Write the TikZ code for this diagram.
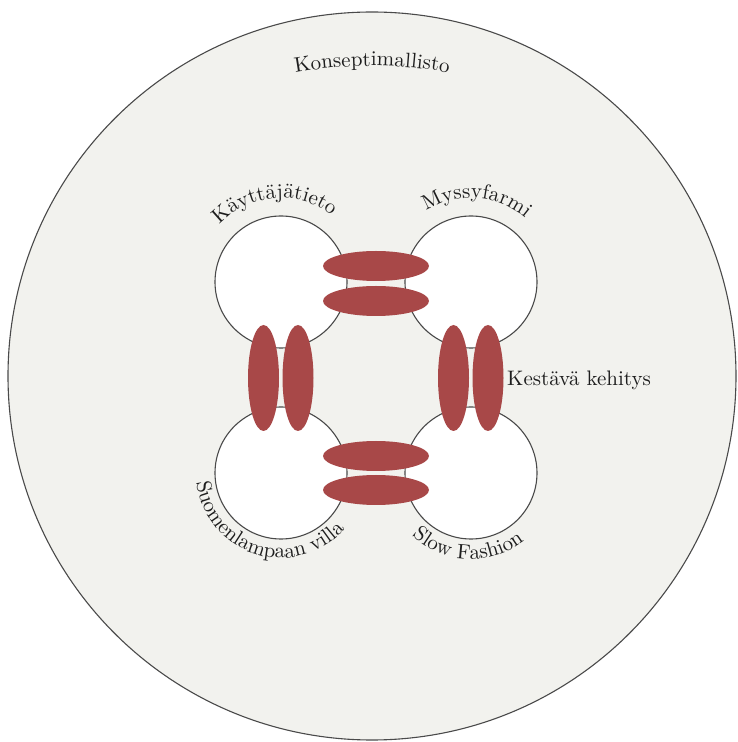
\documentclass[tikz,border=0pt]{standalone}
\usepackage{fontspec}
\usetikzlibrary{shapes.geometric,decorations.text,calc}
\newfontfamily\lblface{lmroman10-regular}[Extension=.otf]
\definecolor{bgfill}{HTML}{F2F2EE}
\definecolor{lineg}{HTML}{4A4A4A}
\definecolor{redov}{HTML}{A84848}
\definecolor{textc}{HTML}{1E1E1E}
\newcommand\lblfont{\lblface\fontsize{21}{25}\selectfont}
\begin{document}
\begin{tikzpicture}[x=1pt,y=1pt,
  bigc/.style={circle, draw=lineg, line width=1.1pt, fill=bgfill, minimum size=728pt, inner sep=0pt},
  smallc/.style={circle, draw=lineg, line width=1.1pt, fill=white, minimum size=132pt, inner sep=0pt},
  hov/.style={ellipse, fill=redov, minimum width=106pt, minimum height=30pt, inner sep=0pt},
  vov/.style={ellipse, fill=redov, minimum width=31pt, minimum height=106pt, inner sep=0pt},
  arclabel/.style={postaction={decorate}, decoration={text along path, text align=center, text color=textc, text={|\lblfont|#1}}},
  plainlbl/.style={font=\lblfont, text=textc, inner sep=0pt}
]
\useasboundingbox (0,0) rectangle (737,742);
% outer circle
\node[bigc] (outer) at (372,366) {};
% four circles
\node[smallc] (tl) at (281,460) {};
\node[smallc] (tr) at (471,460) {};
\node[smallc] (bl) at (281,269) {};
\node[smallc] (br) at (471,269) {};
% ellipses
\node[hov] (t1) at (376,476) {};
\node[hov] (t2) at (376,441) {};
\node[hov] (b1) at (376,286) {};
\node[hov] (b2) at (376,252) {};
\node[vov] (l1) at (263.5,364) {};
\node[vov] (l2) at (298,364) {};
\node[vov] (r1) at (453.5,364) {};
\node[vov] (r2) at (488,364) {};
% labels
\path[arclabel={Konseptimallisto}] ($(outer.center)+(0,-126)+(118:436)$) arc[start angle=118, end angle=62, radius=436];
\path[arclabel={Käyttäjätieto}] ($(tl.center)+(185:84)$) arc[start angle=185, end angle=5, radius=84];
\path[arclabel={Myssyfarmi}] ($(tr.center)+(176:84)$) arc[start angle=176, end angle=-4, radius=84];
\path[arclabel={Suomenlampaan villa}] ($(bl.center)+(162.5:85)$) arc[start angle=162.5, end angle=342.5, radius=85];
\path[arclabel={Slow Fashion}] ($(br.center)+(177.5:86)$) arc[start angle=177.5, end angle=357.5, radius=86];
\node[plainlbl, anchor=base west] (kk) at (507,356) {Kestävä kehitys};
\end{tikzpicture}
\end{document}
